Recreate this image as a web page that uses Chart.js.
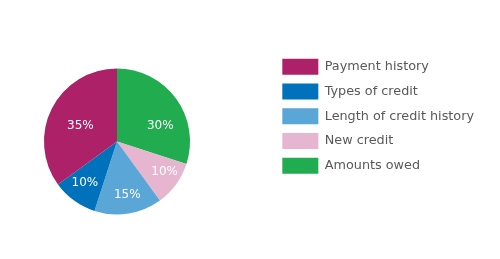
<!DOCTYPE html>
<html><head><meta charset="utf-8">
<script src="https://cdn.jsdelivr.net/npm/chart.js@4"></script>
<style>html,body{margin:0;padding:0;background:#fff}#wrap{width:500px;height:259px;position:relative}</style>
</head><body><div id="wrap"><canvas id="c"></canvas></div>
<script>
const categories = ['Amounts owed','New credit','Length of credit history','Types of credit','Payment history'];
const values = [30,10,15,10,35];
const colors = ['#21ac4f','#e6b6d1','#5aa6d6','#0071bb','#ac2168'];

// keep the pie centred at a chosen x while the legend sits on the right
const centerPlugin = {
  id:'pieCenter',
  afterLayout(chart, args, opts){
    const ca = chart.chartArea;
    ca.left = 2*opts.cx - ca.right;
    ca.width = ca.right - ca.left;
  }
};

const labelPlugin = {
  id:'pctLabels',
  afterDatasetsDraw(chart, args, opts){
    const ctx = chart.ctx, meta = chart.getDatasetMeta(0);
    ctx.save();
    ctx.fillStyle = '#fff';
    ctx.font = '12px "DejaVu Sans"';
    ctx.textAlign = 'center';
    ctx.textBaseline = 'middle';
    meta.data.forEach((arc,i)=>{
      const p = arc.getProps(['x','y','startAngle','endAngle','outerRadius'], true);
      const adj = opts.place[i];
      const a = (p.startAngle + p.endAngle)/2 + adj.da*Math.PI/180, r = p.outerRadius*adj.rf;
      ctx.fillText(values[i] + '%', p.x + Math.cos(a)*r, p.y + Math.sin(a)*r);
    });
    ctx.restore();
  }
};

new Chart(document.getElementById('c'), {
  type:'pie',
  data:{labels:categories, datasets:[{data:values, backgroundColor:colors, borderWidth:0, radius:73}]},
  options:{
    responsive:true, maintainAspectRatio:false, animation:false,
    layout:{padding:{top:50, bottom:26, left:0, right:16}},
    plugins:{
      tooltip:{enabled:false},
      pieCenter:{cx:117},
      pctLabels:{place:[{da:16,rf:0.63},{da:-3.4,rf:0.775},{da:-1.9,rf:0.74},{da:1.7,rf:0.72},{da:-4.1,rf:0.545}]},
      legend:{
        position:'right', align:'start', reverse:true,
        labels:{boxWidth:36, boxHeight:16, padding:8.75, color:'#58595b', font:{family:'DejaVu Sans', size:12.8}}
      }
    }
  },
  plugins:[centerPlugin, labelPlugin]
});
</script></body></html>
